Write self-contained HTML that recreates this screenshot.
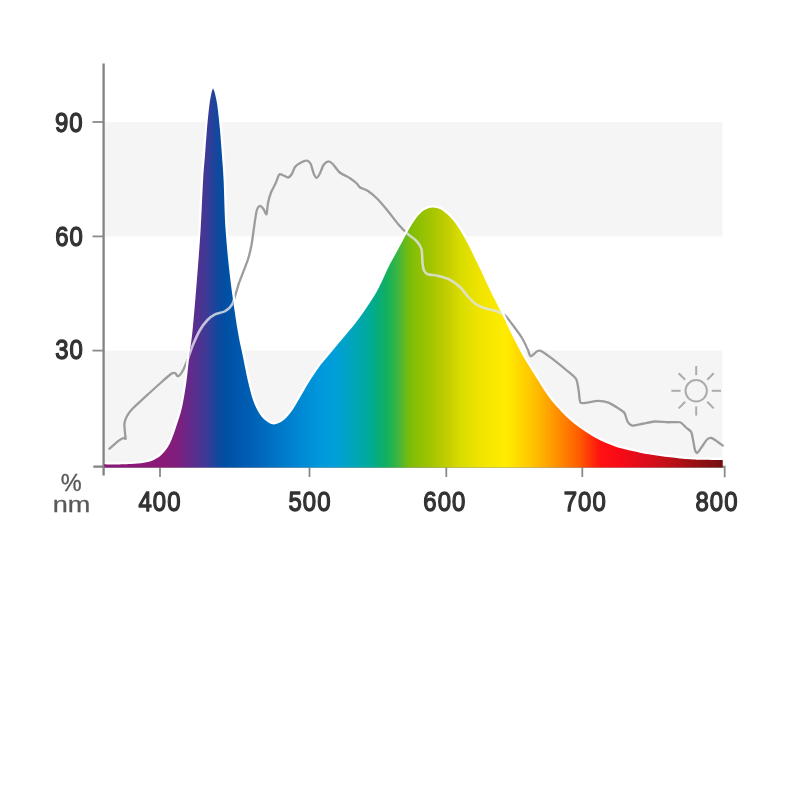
<!DOCTYPE html>
<html><head><meta charset="utf-8"><title>Spectrum</title>
<style>
html,body{margin:0;padding:0;background:#fff;}
body{width:800px;height:800px;overflow:hidden;font-family:"Liberation Sans",sans-serif;}
svg{display:block;}
.num text{font-family:"Liberation Sans",sans-serif;font-weight:normal;fill:#333;stroke:#333;stroke-width:1.4;stroke-linejoin:round;}
.unit text{font-family:"Liberation Sans",sans-serif;fill:#585858;stroke:#585858;stroke-width:0.3;}
</style></head><body>
<svg width="800" height="800" viewBox="0 0 800 800">
<defs>
<linearGradient id="g" gradientUnits="userSpaceOnUse" x1="104" y1="0" x2="723" y2="0"><stop offset="0.0000" stop-color="#8a1878"/><stop offset="0.0985" stop-color="#8a1a78"/><stop offset="0.1228" stop-color="#7a2080"/><stop offset="0.1470" stop-color="#582e8e"/><stop offset="0.1664" stop-color="#3c3a96"/><stop offset="0.1842" stop-color="#0f499f"/><stop offset="0.1955" stop-color="#004fa3"/><stop offset="0.2359" stop-color="#005fb4"/><stop offset="0.2843" stop-color="#0078c8"/><stop offset="0.3166" stop-color="#0088d4"/><stop offset="0.3489" stop-color="#0098dc"/><stop offset="0.3732" stop-color="#009fd8"/><stop offset="0.3974" stop-color="#00a4c0"/><stop offset="0.4297" stop-color="#00aa98"/><stop offset="0.4556" stop-color="#10b060"/><stop offset="0.4685" stop-color="#2cb44c"/><stop offset="0.4782" stop-color="#48b636"/><stop offset="0.4879" stop-color="#6cba16"/><stop offset="0.4992" stop-color="#84be06"/><stop offset="0.5267" stop-color="#a0c400"/><stop offset="0.5590" stop-color="#c8d000"/><stop offset="0.5751" stop-color="#d8dc00"/><stop offset="0.6074" stop-color="#f0e400"/><stop offset="0.6494" stop-color="#ffec00"/><stop offset="0.6882" stop-color="#ffc800"/><stop offset="0.7205" stop-color="#ffa000"/><stop offset="0.7528" stop-color="#ff7200"/><stop offset="0.7690" stop-color="#ff5a00"/><stop offset="0.7851" stop-color="#ff3408"/><stop offset="0.8013" stop-color="#ff1212"/><stop offset="0.8336" stop-color="#f80a16"/><stop offset="0.8659" stop-color="#e20c1a"/><stop offset="0.8982" stop-color="#cc1018"/><stop offset="0.9467" stop-color="#a01014"/><stop offset="0.9984" stop-color="#741010"/></linearGradient>
<clipPath id="c"><path d="M104.00 464.20 C105.42 464.27 108.00 464.62 112.50 464.60 C117.00 464.58 125.79 464.40 131.00 464.10 C136.21 463.80 139.96 463.50 143.75 462.80 C147.54 462.10 150.83 461.20 153.75 459.90 C156.67 458.60 158.96 457.07 161.25 455.00 C163.54 452.93 165.72 450.21 167.50 447.50 C169.28 444.79 170.42 442.33 171.90 438.75 C173.38 435.17 174.72 431.21 176.40 426.00 C178.08 420.79 180.35 414.75 182.00 407.50 C183.65 400.25 185.08 391.08 186.30 382.50 C187.52 373.92 188.25 364.75 189.30 356.00 C190.35 347.25 191.33 342.67 192.60 330.00 C193.87 317.33 195.57 296.67 196.90 280.00 C198.23 263.33 199.57 246.67 200.60 230.00 C201.63 213.33 202.37 192.50 203.10 180.00 C203.83 167.50 204.37 163.33 205.00 155.00 C205.63 146.67 206.17 138.33 206.90 130.00 C207.63 121.67 208.63 111.17 209.40 105.00 C210.17 98.83 210.98 95.53 211.50 93.00 C212.02 90.47 212.23 90.55 212.50 89.80 C212.77 89.05 212.90 88.50 213.10 88.50 C213.30 88.50 213.42 89.05 213.70 89.80 C213.98 90.55 214.21 90.47 214.80 93.00 C215.39 95.53 216.38 98.83 217.25 105.00 C218.12 111.17 219.22 121.67 220.00 130.00 C220.78 138.33 221.30 146.67 221.90 155.00 C222.50 163.33 222.98 167.50 223.60 180.00 C224.22 192.50 224.47 213.33 225.60 230.00 C226.73 246.67 228.40 263.33 230.40 280.00 C232.40 296.67 235.57 317.50 237.60 330.00 C239.63 342.50 240.92 346.67 242.60 355.00 C244.28 363.33 245.97 372.50 247.70 380.00 C249.43 387.50 251.16 394.58 253.00 400.00 C254.84 405.42 256.75 409.17 258.75 412.50 C260.75 415.83 262.50 418.02 265.00 420.00 C267.50 421.98 270.62 424.40 273.75 424.40 C276.88 424.40 280.62 422.40 283.75 420.00 C286.88 417.60 289.79 413.75 292.50 410.00 C295.21 406.25 297.29 402.08 300.00 397.50 C302.71 392.92 305.62 387.50 308.75 382.50 C311.88 377.50 315.88 371.50 318.75 367.50 C321.62 363.50 322.04 363.29 326.00 358.50 C329.96 353.71 337.67 344.54 342.50 338.75 C347.33 332.96 350.83 329.17 355.00 323.75 C359.17 318.33 363.96 311.46 367.50 306.25 C371.04 301.04 373.75 296.88 376.25 292.50 C378.75 288.12 380.42 284.33 382.50 280.00 C384.58 275.67 386.67 270.67 388.75 266.50 C390.83 262.33 392.71 259.21 395.00 255.00 C397.29 250.79 400.33 245.25 402.50 241.25 C404.67 237.25 405.75 234.82 408.00 231.00 C410.25 227.18 413.33 221.75 416.00 218.30 C418.67 214.85 421.25 212.10 424.00 210.30 C426.75 208.50 429.83 207.72 432.50 207.50 C435.17 207.28 437.92 208.17 440.00 209.00 C442.08 209.83 443.00 210.83 445.00 212.50 C447.00 214.17 449.50 216.08 452.00 219.00 C454.50 221.92 457.00 225.17 460.00 230.00 C463.00 234.83 467.50 243.25 470.00 248.00 C472.50 252.75 473.33 255.08 475.00 258.50 C476.67 261.92 477.50 263.25 480.00 268.50 C482.50 273.75 486.33 282.42 490.00 290.00 C493.67 297.58 498.67 307.17 502.00 314.00 C505.33 320.83 507.42 325.71 510.00 331.00 C512.58 336.29 514.79 340.67 517.50 345.75 C520.21 350.83 523.33 356.54 526.25 361.50 C529.17 366.46 532.08 370.83 535.00 375.50 C537.92 380.17 540.83 385.12 543.75 389.50 C546.67 393.88 549.58 398.10 552.50 401.75 C555.42 405.40 558.33 408.36 561.25 411.40 C564.17 414.44 567.08 417.40 570.00 420.00 C572.92 422.60 575.83 424.83 578.75 427.00 C581.67 429.17 584.58 431.12 587.50 433.00 C590.42 434.88 593.33 436.72 596.25 438.30 C599.17 439.88 602.08 441.22 605.00 442.50 C607.92 443.78 610.92 444.98 613.75 446.00 C616.58 447.02 619.29 447.83 622.00 448.60 C624.71 449.37 627.00 449.92 630.00 450.60 C633.00 451.28 636.67 452.07 640.00 452.70 C643.33 453.33 646.67 453.87 650.00 454.40 C653.33 454.93 656.67 455.42 660.00 455.90 C663.33 456.38 666.67 456.88 670.00 457.30 C673.33 457.72 676.67 458.08 680.00 458.40 C683.33 458.72 686.67 458.98 690.00 459.20 C693.33 459.42 694.54 459.58 700.00 459.70 C705.46 459.82 718.96 459.87 722.75 459.90 L722.75 467.45 L104.6 467.45 Z"/></clipPath>
<clipPath id="h"><rect x="105" y="60" width="620" height="405.4"/></clipPath>
</defs>
<rect width="800" height="800" fill="#fff"/>
<rect x="104" y="122" width="618.3" height="114.3" fill="#f5f5f5"/>
<rect x="104" y="350.6" width="618.3" height="116" fill="#f5f5f5"/>
<g stroke="#828282" stroke-width="2.3" fill="none">
<line x1="103.6" y1="63.5" x2="103.6" y2="475.5"/>
<line x1="93.3" y1="466.6" x2="724" y2="466.6"/>
</g>
<g stroke="#8a8a8a" stroke-width="1.8" fill="none">
<line x1="92.5" y1="122" x2="103" y2="122"/>
<line x1="92.5" y1="236.4" x2="103" y2="236.4"/>
<line x1="92.5" y1="350.6" x2="103" y2="350.6"/>
<line x1="160" y1="467" x2="160" y2="477"/>
<line x1="309.5" y1="467" x2="309.5" y2="477"/>
<line x1="446.3" y1="467" x2="446.3" y2="477"/>
<line x1="582.3" y1="467" x2="582.3" y2="477"/>
<line x1="724.7" y1="465.6" x2="724.7" y2="477.3"/>
</g>
<path d="M109.40 448.75 C110.49 447.80 117.08 441.85 118.75 440.60 C120.42 439.35 122.95 438.22 123.75 438.00 C124.55 437.78 125.45 439.39 125.60 438.75 C125.75 438.11 125.14 434.25 125.00 432.50 C124.86 430.75 124.18 425.65 124.40 423.75 C124.62 421.85 125.96 418.00 126.90 416.25 C127.84 414.50 129.81 411.52 132.50 408.75 C135.19 405.98 146.50 395.71 150.00 392.50 C153.50 389.29 160.02 383.44 162.50 381.25 C164.98 379.06 169.79 374.71 171.25 373.75 C172.71 372.79 174.21 372.71 175.00 373.00 C175.79 373.29 177.12 376.45 178.00 376.25 C178.88 376.05 181.39 373.15 182.50 371.25 C183.61 369.35 186.33 362.95 187.50 360.00 C188.67 357.05 191.04 349.50 192.50 346.00 C193.96 342.50 198.25 333.03 200.00 330.00 C201.75 326.97 205.75 321.82 207.50 320.00 C209.25 318.18 212.96 315.42 215.00 314.40 C217.04 313.38 222.96 312.49 225.00 311.25 C227.04 310.01 230.90 306.96 232.50 303.75 C234.10 300.54 236.97 288.85 238.75 283.75 C240.53 278.65 246.26 264.52 247.75 260.00 C249.24 255.48 250.71 249.20 251.50 245.00 C252.29 240.80 253.89 228.03 254.50 224.00 C255.11 219.97 256.14 212.60 256.75 210.50 C257.36 208.40 258.96 206.18 259.75 206.00 C260.54 205.82 262.71 208.04 263.50 209.00 C264.29 209.96 265.98 214.95 266.50 214.25 C267.02 213.55 267.48 205.54 268.00 203.00 C268.52 200.46 270.12 194.78 271.00 192.50 C271.88 190.22 274.54 185.60 275.50 183.50 C276.46 181.40 278.38 175.46 279.25 174.50 C280.12 173.54 281.95 174.90 283.00 175.25 C284.05 175.60 287.20 177.68 288.25 177.50 C289.30 177.32 291.21 174.97 292.00 173.75 C292.79 172.53 293.95 168.31 295.00 167.00 C296.05 165.69 299.60 163.24 301.00 162.50 C302.40 161.76 305.86 160.52 307.00 160.70 C308.14 160.88 309.96 162.48 310.75 164.00 C311.54 165.52 313.05 172.14 313.75 173.75 C314.45 175.36 316.05 177.80 316.75 177.80 C317.45 177.80 318.96 175.24 319.75 173.75 C320.54 172.26 322.51 166.45 323.50 165.00 C324.49 163.55 327.17 161.42 328.25 161.30 C329.33 161.18 331.44 162.72 332.75 164.00 C334.06 165.28 337.49 170.59 339.50 172.25 C341.51 173.91 347.99 176.94 350.00 178.25 C352.01 179.56 355.61 182.45 356.75 183.50 C357.89 184.55 358.44 186.38 359.75 187.25 C361.06 188.12 365.99 189.69 368.00 191.00 C370.01 192.31 374.73 196.22 377.00 198.50 C379.27 200.78 385.05 207.53 387.50 210.50 C389.95 213.47 395.67 221.29 398.00 224.00 C400.33 226.71 405.34 231.77 407.50 233.75 C409.66 235.73 414.87 239.22 416.50 241.00 C418.13 242.78 420.80 246.43 421.50 249.00 C422.20 251.57 422.21 260.49 422.50 263.00 C422.79 265.51 423.39 269.19 424.00 270.50 C424.61 271.81 426.18 273.64 427.75 274.25 C429.32 274.86 434.96 275.14 437.50 275.75 C440.04 276.36 446.88 278.19 449.50 279.50 C452.12 280.81 457.90 285.07 460.00 287.00 C462.10 288.93 465.75 294.07 467.50 296.00 C469.25 297.93 473.07 302.10 475.00 303.50 C476.93 304.90 481.55 307.12 484.00 308.00 C486.45 308.88 493.55 310.12 496.00 311.00 C498.45 311.88 503.13 313.98 505.00 315.50 C506.87 317.02 510.02 321.38 512.00 324.00 C513.98 326.62 520.13 334.97 522.00 338.00 C523.87 341.03 527.00 347.87 528.00 350.00 C529.00 352.13 529.48 356.13 530.60 356.25 C531.72 356.37 536.27 351.57 537.60 351.00 C538.93 350.43 540.26 350.48 542.00 351.40 C543.74 352.32 549.64 356.70 552.50 358.90 C555.36 361.10 563.75 367.90 566.50 370.25 C569.25 372.60 574.67 376.55 576.10 379.00 C577.53 381.45 578.24 388.50 578.75 391.25 C579.26 394.00 579.48 401.28 580.50 402.60 C581.52 403.92 585.46 402.80 587.50 402.60 C589.54 402.40 595.55 400.90 598.00 400.90 C600.45 400.90 606.05 401.68 608.50 402.60 C610.95 403.52 617.13 407.54 619.00 408.75 C620.87 409.96 623.51 411.51 624.50 413.00 C625.49 414.49 626.62 420.04 627.50 421.50 C628.38 422.96 630.25 425.24 632.00 425.50 C633.75 425.76 639.88 424.22 642.50 423.75 C645.12 423.28 651.52 421.68 654.50 421.50 C657.48 421.32 665.02 422.16 668.00 422.25 C670.98 422.34 677.90 421.64 680.00 422.25 C682.10 422.86 684.69 426.36 686.00 427.50 C687.31 428.64 690.38 430.25 691.25 432.00 C692.12 433.75 693.06 440.40 693.50 442.50 C693.94 444.60 694.56 448.77 695.00 450.00 C695.44 451.23 696.46 453.35 697.25 453.00 C698.04 452.65 700.61 448.57 701.75 447.00 C702.89 445.43 705.86 440.55 707.00 439.50 C708.14 438.45 710.27 437.74 711.50 438.00 C712.73 438.26 716.19 440.88 717.50 441.75 C718.81 442.62 722.14 445.06 722.75 445.50" fill="none" stroke="#9c9c9c" stroke-width="2.3" stroke-linejoin="round" stroke-linecap="round"/>
<path d="M104.00 464.20 C105.42 464.27 108.00 464.62 112.50 464.60 C117.00 464.58 125.79 464.40 131.00 464.10 C136.21 463.80 139.96 463.50 143.75 462.80 C147.54 462.10 150.83 461.20 153.75 459.90 C156.67 458.60 158.96 457.07 161.25 455.00 C163.54 452.93 165.72 450.21 167.50 447.50 C169.28 444.79 170.42 442.33 171.90 438.75 C173.38 435.17 174.72 431.21 176.40 426.00 C178.08 420.79 180.35 414.75 182.00 407.50 C183.65 400.25 185.08 391.08 186.30 382.50 C187.52 373.92 188.25 364.75 189.30 356.00 C190.35 347.25 191.33 342.67 192.60 330.00 C193.87 317.33 195.57 296.67 196.90 280.00 C198.23 263.33 199.57 246.67 200.60 230.00 C201.63 213.33 202.37 192.50 203.10 180.00 C203.83 167.50 204.37 163.33 205.00 155.00 C205.63 146.67 206.17 138.33 206.90 130.00 C207.63 121.67 208.63 111.17 209.40 105.00 C210.17 98.83 210.98 95.53 211.50 93.00 C212.02 90.47 212.23 90.55 212.50 89.80 C212.77 89.05 212.90 88.50 213.10 88.50 C213.30 88.50 213.42 89.05 213.70 89.80 C213.98 90.55 214.21 90.47 214.80 93.00 C215.39 95.53 216.38 98.83 217.25 105.00 C218.12 111.17 219.22 121.67 220.00 130.00 C220.78 138.33 221.30 146.67 221.90 155.00 C222.50 163.33 222.98 167.50 223.60 180.00 C224.22 192.50 224.47 213.33 225.60 230.00 C226.73 246.67 228.40 263.33 230.40 280.00 C232.40 296.67 235.57 317.50 237.60 330.00 C239.63 342.50 240.92 346.67 242.60 355.00 C244.28 363.33 245.97 372.50 247.70 380.00 C249.43 387.50 251.16 394.58 253.00 400.00 C254.84 405.42 256.75 409.17 258.75 412.50 C260.75 415.83 262.50 418.02 265.00 420.00 C267.50 421.98 270.62 424.40 273.75 424.40 C276.88 424.40 280.62 422.40 283.75 420.00 C286.88 417.60 289.79 413.75 292.50 410.00 C295.21 406.25 297.29 402.08 300.00 397.50 C302.71 392.92 305.62 387.50 308.75 382.50 C311.88 377.50 315.88 371.50 318.75 367.50 C321.62 363.50 322.04 363.29 326.00 358.50 C329.96 353.71 337.67 344.54 342.50 338.75 C347.33 332.96 350.83 329.17 355.00 323.75 C359.17 318.33 363.96 311.46 367.50 306.25 C371.04 301.04 373.75 296.88 376.25 292.50 C378.75 288.12 380.42 284.33 382.50 280.00 C384.58 275.67 386.67 270.67 388.75 266.50 C390.83 262.33 392.71 259.21 395.00 255.00 C397.29 250.79 400.33 245.25 402.50 241.25 C404.67 237.25 405.75 234.82 408.00 231.00 C410.25 227.18 413.33 221.75 416.00 218.30 C418.67 214.85 421.25 212.10 424.00 210.30 C426.75 208.50 429.83 207.72 432.50 207.50 C435.17 207.28 437.92 208.17 440.00 209.00 C442.08 209.83 443.00 210.83 445.00 212.50 C447.00 214.17 449.50 216.08 452.00 219.00 C454.50 221.92 457.00 225.17 460.00 230.00 C463.00 234.83 467.50 243.25 470.00 248.00 C472.50 252.75 473.33 255.08 475.00 258.50 C476.67 261.92 477.50 263.25 480.00 268.50 C482.50 273.75 486.33 282.42 490.00 290.00 C493.67 297.58 498.67 307.17 502.00 314.00 C505.33 320.83 507.42 325.71 510.00 331.00 C512.58 336.29 514.79 340.67 517.50 345.75 C520.21 350.83 523.33 356.54 526.25 361.50 C529.17 366.46 532.08 370.83 535.00 375.50 C537.92 380.17 540.83 385.12 543.75 389.50 C546.67 393.88 549.58 398.10 552.50 401.75 C555.42 405.40 558.33 408.36 561.25 411.40 C564.17 414.44 567.08 417.40 570.00 420.00 C572.92 422.60 575.83 424.83 578.75 427.00 C581.67 429.17 584.58 431.12 587.50 433.00 C590.42 434.88 593.33 436.72 596.25 438.30 C599.17 439.88 602.08 441.22 605.00 442.50 C607.92 443.78 610.92 444.98 613.75 446.00 C616.58 447.02 619.29 447.83 622.00 448.60 C624.71 449.37 627.00 449.92 630.00 450.60 C633.00 451.28 636.67 452.07 640.00 452.70 C643.33 453.33 646.67 453.87 650.00 454.40 C653.33 454.93 656.67 455.42 660.00 455.90 C663.33 456.38 666.67 456.88 670.00 457.30 C673.33 457.72 676.67 458.08 680.00 458.40 C683.33 458.72 686.67 458.98 690.00 459.20 C693.33 459.42 694.54 459.58 700.00 459.70 C705.46 459.82 718.96 459.87 722.75 459.90 L722.75 467.45 L104.6 467.45 Z" fill="#fff" stroke="#fff" stroke-width="4.6" stroke-linejoin="round" clip-path="url(#h)"/>
<path d="M104.00 464.20 C105.42 464.27 108.00 464.62 112.50 464.60 C117.00 464.58 125.79 464.40 131.00 464.10 C136.21 463.80 139.96 463.50 143.75 462.80 C147.54 462.10 150.83 461.20 153.75 459.90 C156.67 458.60 158.96 457.07 161.25 455.00 C163.54 452.93 165.72 450.21 167.50 447.50 C169.28 444.79 170.42 442.33 171.90 438.75 C173.38 435.17 174.72 431.21 176.40 426.00 C178.08 420.79 180.35 414.75 182.00 407.50 C183.65 400.25 185.08 391.08 186.30 382.50 C187.52 373.92 188.25 364.75 189.30 356.00 C190.35 347.25 191.33 342.67 192.60 330.00 C193.87 317.33 195.57 296.67 196.90 280.00 C198.23 263.33 199.57 246.67 200.60 230.00 C201.63 213.33 202.37 192.50 203.10 180.00 C203.83 167.50 204.37 163.33 205.00 155.00 C205.63 146.67 206.17 138.33 206.90 130.00 C207.63 121.67 208.63 111.17 209.40 105.00 C210.17 98.83 210.98 95.53 211.50 93.00 C212.02 90.47 212.23 90.55 212.50 89.80 C212.77 89.05 212.90 88.50 213.10 88.50 C213.30 88.50 213.42 89.05 213.70 89.80 C213.98 90.55 214.21 90.47 214.80 93.00 C215.39 95.53 216.38 98.83 217.25 105.00 C218.12 111.17 219.22 121.67 220.00 130.00 C220.78 138.33 221.30 146.67 221.90 155.00 C222.50 163.33 222.98 167.50 223.60 180.00 C224.22 192.50 224.47 213.33 225.60 230.00 C226.73 246.67 228.40 263.33 230.40 280.00 C232.40 296.67 235.57 317.50 237.60 330.00 C239.63 342.50 240.92 346.67 242.60 355.00 C244.28 363.33 245.97 372.50 247.70 380.00 C249.43 387.50 251.16 394.58 253.00 400.00 C254.84 405.42 256.75 409.17 258.75 412.50 C260.75 415.83 262.50 418.02 265.00 420.00 C267.50 421.98 270.62 424.40 273.75 424.40 C276.88 424.40 280.62 422.40 283.75 420.00 C286.88 417.60 289.79 413.75 292.50 410.00 C295.21 406.25 297.29 402.08 300.00 397.50 C302.71 392.92 305.62 387.50 308.75 382.50 C311.88 377.50 315.88 371.50 318.75 367.50 C321.62 363.50 322.04 363.29 326.00 358.50 C329.96 353.71 337.67 344.54 342.50 338.75 C347.33 332.96 350.83 329.17 355.00 323.75 C359.17 318.33 363.96 311.46 367.50 306.25 C371.04 301.04 373.75 296.88 376.25 292.50 C378.75 288.12 380.42 284.33 382.50 280.00 C384.58 275.67 386.67 270.67 388.75 266.50 C390.83 262.33 392.71 259.21 395.00 255.00 C397.29 250.79 400.33 245.25 402.50 241.25 C404.67 237.25 405.75 234.82 408.00 231.00 C410.25 227.18 413.33 221.75 416.00 218.30 C418.67 214.85 421.25 212.10 424.00 210.30 C426.75 208.50 429.83 207.72 432.50 207.50 C435.17 207.28 437.92 208.17 440.00 209.00 C442.08 209.83 443.00 210.83 445.00 212.50 C447.00 214.17 449.50 216.08 452.00 219.00 C454.50 221.92 457.00 225.17 460.00 230.00 C463.00 234.83 467.50 243.25 470.00 248.00 C472.50 252.75 473.33 255.08 475.00 258.50 C476.67 261.92 477.50 263.25 480.00 268.50 C482.50 273.75 486.33 282.42 490.00 290.00 C493.67 297.58 498.67 307.17 502.00 314.00 C505.33 320.83 507.42 325.71 510.00 331.00 C512.58 336.29 514.79 340.67 517.50 345.75 C520.21 350.83 523.33 356.54 526.25 361.50 C529.17 366.46 532.08 370.83 535.00 375.50 C537.92 380.17 540.83 385.12 543.75 389.50 C546.67 393.88 549.58 398.10 552.50 401.75 C555.42 405.40 558.33 408.36 561.25 411.40 C564.17 414.44 567.08 417.40 570.00 420.00 C572.92 422.60 575.83 424.83 578.75 427.00 C581.67 429.17 584.58 431.12 587.50 433.00 C590.42 434.88 593.33 436.72 596.25 438.30 C599.17 439.88 602.08 441.22 605.00 442.50 C607.92 443.78 610.92 444.98 613.75 446.00 C616.58 447.02 619.29 447.83 622.00 448.60 C624.71 449.37 627.00 449.92 630.00 450.60 C633.00 451.28 636.67 452.07 640.00 452.70 C643.33 453.33 646.67 453.87 650.00 454.40 C653.33 454.93 656.67 455.42 660.00 455.90 C663.33 456.38 666.67 456.88 670.00 457.30 C673.33 457.72 676.67 458.08 680.00 458.40 C683.33 458.72 686.67 458.98 690.00 459.20 C693.33 459.42 694.54 459.58 700.00 459.70 C705.46 459.82 718.96 459.87 722.75 459.90 L722.75 467.45 L104.6 467.45 Z" fill="url(#g)"/>
<path d="M109.40 448.75 C110.49 447.80 117.08 441.85 118.75 440.60 C120.42 439.35 122.95 438.22 123.75 438.00 C124.55 437.78 125.45 439.39 125.60 438.75 C125.75 438.11 125.14 434.25 125.00 432.50 C124.86 430.75 124.18 425.65 124.40 423.75 C124.62 421.85 125.96 418.00 126.90 416.25 C127.84 414.50 129.81 411.52 132.50 408.75 C135.19 405.98 146.50 395.71 150.00 392.50 C153.50 389.29 160.02 383.44 162.50 381.25 C164.98 379.06 169.79 374.71 171.25 373.75 C172.71 372.79 174.21 372.71 175.00 373.00 C175.79 373.29 177.12 376.45 178.00 376.25 C178.88 376.05 181.39 373.15 182.50 371.25 C183.61 369.35 186.33 362.95 187.50 360.00 C188.67 357.05 191.04 349.50 192.50 346.00 C193.96 342.50 198.25 333.03 200.00 330.00 C201.75 326.97 205.75 321.82 207.50 320.00 C209.25 318.18 212.96 315.42 215.00 314.40 C217.04 313.38 222.96 312.49 225.00 311.25 C227.04 310.01 230.90 306.96 232.50 303.75 C234.10 300.54 236.97 288.85 238.75 283.75 C240.53 278.65 246.26 264.52 247.75 260.00 C249.24 255.48 250.71 249.20 251.50 245.00 C252.29 240.80 253.89 228.03 254.50 224.00 C255.11 219.97 256.14 212.60 256.75 210.50 C257.36 208.40 258.96 206.18 259.75 206.00 C260.54 205.82 262.71 208.04 263.50 209.00 C264.29 209.96 265.98 214.95 266.50 214.25 C267.02 213.55 267.48 205.54 268.00 203.00 C268.52 200.46 270.12 194.78 271.00 192.50 C271.88 190.22 274.54 185.60 275.50 183.50 C276.46 181.40 278.38 175.46 279.25 174.50 C280.12 173.54 281.95 174.90 283.00 175.25 C284.05 175.60 287.20 177.68 288.25 177.50 C289.30 177.32 291.21 174.97 292.00 173.75 C292.79 172.53 293.95 168.31 295.00 167.00 C296.05 165.69 299.60 163.24 301.00 162.50 C302.40 161.76 305.86 160.52 307.00 160.70 C308.14 160.88 309.96 162.48 310.75 164.00 C311.54 165.52 313.05 172.14 313.75 173.75 C314.45 175.36 316.05 177.80 316.75 177.80 C317.45 177.80 318.96 175.24 319.75 173.75 C320.54 172.26 322.51 166.45 323.50 165.00 C324.49 163.55 327.17 161.42 328.25 161.30 C329.33 161.18 331.44 162.72 332.75 164.00 C334.06 165.28 337.49 170.59 339.50 172.25 C341.51 173.91 347.99 176.94 350.00 178.25 C352.01 179.56 355.61 182.45 356.75 183.50 C357.89 184.55 358.44 186.38 359.75 187.25 C361.06 188.12 365.99 189.69 368.00 191.00 C370.01 192.31 374.73 196.22 377.00 198.50 C379.27 200.78 385.05 207.53 387.50 210.50 C389.95 213.47 395.67 221.29 398.00 224.00 C400.33 226.71 405.34 231.77 407.50 233.75 C409.66 235.73 414.87 239.22 416.50 241.00 C418.13 242.78 420.80 246.43 421.50 249.00 C422.20 251.57 422.21 260.49 422.50 263.00 C422.79 265.51 423.39 269.19 424.00 270.50 C424.61 271.81 426.18 273.64 427.75 274.25 C429.32 274.86 434.96 275.14 437.50 275.75 C440.04 276.36 446.88 278.19 449.50 279.50 C452.12 280.81 457.90 285.07 460.00 287.00 C462.10 288.93 465.75 294.07 467.50 296.00 C469.25 297.93 473.07 302.10 475.00 303.50 C476.93 304.90 481.55 307.12 484.00 308.00 C486.45 308.88 493.55 310.12 496.00 311.00 C498.45 311.88 503.13 313.98 505.00 315.50 C506.87 317.02 510.02 321.38 512.00 324.00 C513.98 326.62 520.13 334.97 522.00 338.00 C523.87 341.03 527.00 347.87 528.00 350.00 C529.00 352.13 529.48 356.13 530.60 356.25 C531.72 356.37 536.27 351.57 537.60 351.00 C538.93 350.43 540.26 350.48 542.00 351.40 C543.74 352.32 549.64 356.70 552.50 358.90 C555.36 361.10 563.75 367.90 566.50 370.25 C569.25 372.60 574.67 376.55 576.10 379.00 C577.53 381.45 578.24 388.50 578.75 391.25 C579.26 394.00 579.48 401.28 580.50 402.60 C581.52 403.92 585.46 402.80 587.50 402.60 C589.54 402.40 595.55 400.90 598.00 400.90 C600.45 400.90 606.05 401.68 608.50 402.60 C610.95 403.52 617.13 407.54 619.00 408.75 C620.87 409.96 623.51 411.51 624.50 413.00 C625.49 414.49 626.62 420.04 627.50 421.50 C628.38 422.96 630.25 425.24 632.00 425.50 C633.75 425.76 639.88 424.22 642.50 423.75 C645.12 423.28 651.52 421.68 654.50 421.50 C657.48 421.32 665.02 422.16 668.00 422.25 C670.98 422.34 677.90 421.64 680.00 422.25 C682.10 422.86 684.69 426.36 686.00 427.50 C687.31 428.64 690.38 430.25 691.25 432.00 C692.12 433.75 693.06 440.40 693.50 442.50 C693.94 444.60 694.56 448.77 695.00 450.00 C695.44 451.23 696.46 453.35 697.25 453.00 C698.04 452.65 700.61 448.57 701.75 447.00 C702.89 445.43 705.86 440.55 707.00 439.50 C708.14 438.45 710.27 437.74 711.50 438.00 C712.73 438.26 716.19 440.88 717.50 441.75 C718.81 442.62 722.14 445.06 722.75 445.50" clip-path="url(#c)" fill="none" stroke="#e2e2ea" stroke-opacity="0.82" stroke-width="2.6" stroke-linejoin="round" stroke-linecap="round"/>
<g fill="none" stroke="#acacac" stroke-width="2" stroke-linecap="butt">
<circle cx="696.2" cy="390.8" r="10.7"/><line x1="711.80" y1="390.80" x2="721.00" y2="390.80"/><line x1="707.23" y1="401.83" x2="713.74" y2="408.34"/><line x1="696.20" y1="406.40" x2="696.20" y2="415.60"/><line x1="685.17" y1="401.83" x2="678.66" y2="408.34"/><line x1="680.60" y1="390.80" x2="671.40" y2="390.80"/><line x1="685.17" y1="379.77" x2="678.66" y2="373.26"/><line x1="696.20" y1="375.20" x2="696.20" y2="366.00"/><line x1="707.23" y1="379.77" x2="713.74" y2="373.26"/>
</g>
<g class="num">
<text transform="translate(54.94 131.80) scale(0.840 1)" letter-spacing="1.29" font-size="28.5">90</text>
<text transform="translate(55.14 246.30) scale(0.840 1)" letter-spacing="1.29" font-size="28.5">60</text>
<text transform="translate(55.14 359.40) scale(0.840 1)" letter-spacing="1.29" font-size="28.5">30</text>
<text transform="translate(138.44 510.80) scale(0.840 1)" letter-spacing="1.29" font-size="28.5">400</text>
<text transform="translate(288.44 510.80) scale(0.840 1)" letter-spacing="1.29" font-size="28.5">500</text>
<text transform="translate(423.34 510.80) scale(0.840 1)" letter-spacing="1.29" font-size="28.5">600</text>
<text transform="translate(563.69 510.80) scale(0.840 1)" letter-spacing="1.29" font-size="28.5">700</text>
<text transform="translate(695.44 510.80) scale(0.840 1)" letter-spacing="1.29" font-size="28.5">800</text>
</g>
<g class="unit">
<text x="71.3" y="490.6" font-size="23.5" text-anchor="middle">%</text>
<text x="52.8" y="511.5" font-size="22.8" textLength="37.6" lengthAdjust="spacingAndGlyphs">nm</text>
</g>
</svg>
</body></html>
